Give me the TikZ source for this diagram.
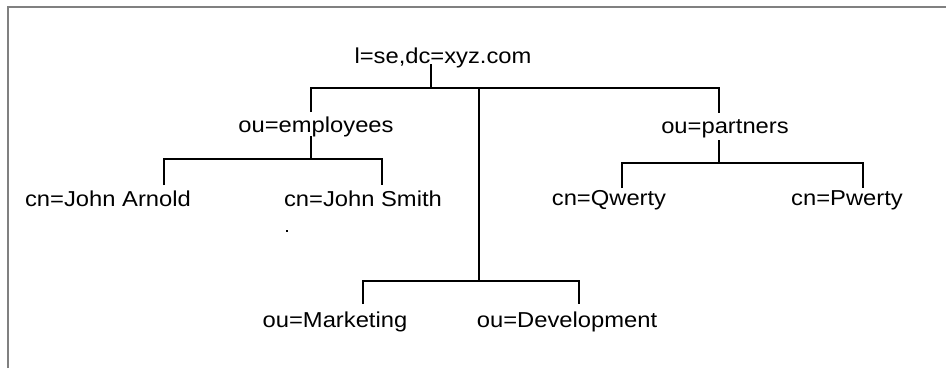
\documentclass[tikz,border=0pt]{standalone}
\usepackage{fontspec}
\setmainfont{Liberation Sans}[FakeStretch=1.1]
\usepackage{tikz}
\tikzset{>=latex}
\def\fsize{21.6}

\begin{document}
\begin{tikzpicture}[x=1pt, y=-1pt,
    entry/.style={anchor=base, inner sep=0pt, font=\fontsize{\fsize}{26}\selectfont},
    link/.style={line width=2pt, black},
    frame/.style={line width=1.5pt, gray}]

\useasboundingbox (0,0) rectangle (946,368);
\draw[frame] (8,368) -- (8,7) -- (946,7);

% Entries
\node[entry] (root)   at (443,63)  {l=se,dc=xyz.com};
\node[entry] (emp)    at (316,132) {ou=employees};
\node[entry] (part)   at (725,133) {ou=partners};
\node[entry] (arnold) at (108,206) {cn=John Arnold};
\node[entry] (smith)  at (363,206) {cn=John Smith};
\node[entry] (qwerty) at (609,205) {cn=Qwerty};
\node[entry] (pwerty) at (847,205) {cn=Pwerty};
\node[entry] (mkt)    at (335,327) {ou=Marketing};
\node[entry] (dev)    at (567,327) {ou=Development};

% Forks
\coordinate (f0) at (431,88);
\coordinate (f1) at (311,159);
\coordinate (f2) at (719,163);
\coordinate (f3) at (479,281);

% Top level
\draw[link] ([xshift=-12pt,yshift=-1pt]root.base) -- (f0);
\draw[link] ([xshift=-5pt,yshift=20pt]emp.base) |- (f0) -| ([xshift=-6pt,yshift=20pt]part.base);
\draw[link] (f0 -| f3) -- (f3);

% Employees
\draw[link] ([xshift=-5pt,yshift=-4pt]emp.base) -- (f1);
\draw[link] ([xshift=56pt,yshift=21pt]arnold.base) |- (f1) -| ([xshift=19pt,yshift=21pt]smith.base);

% Partners
\draw[link] ([xshift=-6pt,yshift=-7pt]part.base) -- (f2);
\draw[link] ([xshift=13pt,yshift=17pt]qwerty.base) |- (f2) -| ([xshift=16pt,yshift=17pt]pwerty.base);

% Units
\draw[link] ([xshift=28pt,yshift=23pt]mkt.base) |- (f3) -| ([xshift=12pt,yshift=23pt]dev.base);

\fill (286,230) rectangle (288,232);

\end{tikzpicture}
\end{document}
